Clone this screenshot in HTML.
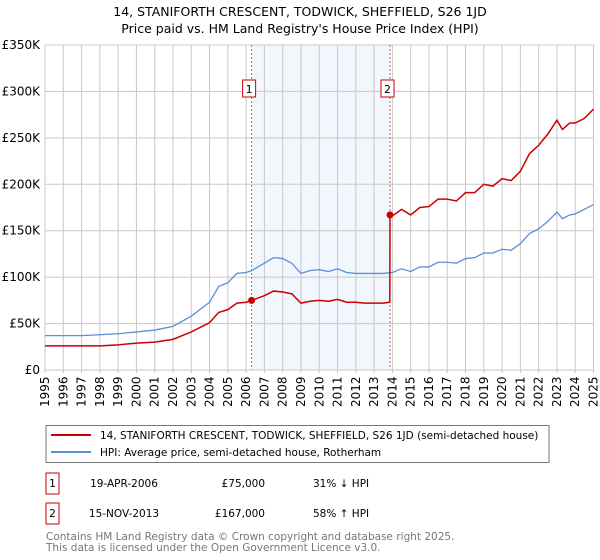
<!DOCTYPE html>
<html><head><meta charset="utf-8"><style>
body{margin:0;background:#fff;font-family:"DejaVu Sans","Liberation Sans",sans-serif;}
#wrap{position:relative;width:600px;height:560px;overflow:hidden}
</style></head><body>
<div id="wrap">
<svg id="chart" width="600" height="560" xmlns="http://www.w3.org/2000/svg" font-family="DejaVu Sans, Liberation Sans, sans-serif"></svg>
</div>
<script>
const hpiYears=[1995,1996,1997,1998,1999,2000,2001,2002,2003,2004,2004.5,2005,2005.5,2006,2006.3,2007,2007.5,2008,2008.5,2009,2009.5,2010,2010.5,2011,2011.5,2012,2012.5,2013,2013.5,2014,2014.5,2015,2015.5,2016,2016.5,2017,2017.5,2018,2018.5,2019,2019.5,2020,2020.5,2021,2021.5,2022,2022.5,2023,2023.3,2023.7,2024,2024.5,2025];
const hpiValues=[37,37,37,38,39,41,43,47,58,73,90,94,104,105,107,115,121,120,115,104,107,108,106,109,105,104,104,104,104,105,109,106,111,111,116,116,115,120,121,126,126,130,129,136,147,152,160,170,163,167,168,173,178];
const redYears=[1995,1996,1997,1998,1999,2000,2001,2002,2003,2004,2004.5,2005,2005.5,2006,2006.3,2007,2007.5,2008,2008.5,2009,2009.5,2010,2010.5,2011,2011.5,2012,2012.5,2013,2013.5,2013.86,2013.87,2014,2014.5,2015,2015.5,2016,2016.5,2017,2017.5,2018,2018.5,2019,2019.5,2020,2020.5,2021,2021.5,2022,2022.5,2023,2023.3,2023.7,2024,2024.5,2025];
const redValues=[26,26,26,26,27,29,30,33,41,51,62,65,72,73,75,80,85,84,82,72,74,75,74,76,73,73,72,72,72,73,167,166,173,167,175,176,184,184,182,191,191,200,198,206,204,214,233,242,254,269,259,266,266,271,281];
const saleYears=[2006.3,2013.87];
const saleValues=[75,167];
const saleLabels=["1","2"];
const yTicks=[0,50,100,150,200,250,300,350];
const yTickLabels=["£0","£50K","£100K","£150K","£200K","£250K","£300K","£350K"];
const xTicks=[1995,1996,1997,1998,1999,2000,2001,2002,2003,2004,2005,2006,2007,2008,2009,2010,2011,2012,2013,2014,2015,2016,2017,2018,2019,2020,2021,2022,2023,2024,2025];

const NS="http://www.w3.org/2000/svg";
const svg=document.getElementById('chart');
const X0=45,X1=593.5,Y0=370,Y1=45;
function xs(y){return X0+(y-1995)/30*(X1-X0);}
function ys(v){return Y0-v/350*(Y0-Y1);}
function mk(tag,attrs,parent){const e=document.createElementNS(NS,tag);for(const k in attrs)e.setAttribute(k,attrs[k]);(parent||svg).appendChild(e);return e;}
function txt(s,attrs){const e=mk('text',attrs);e.textContent=s;return e;}

let t=txt("14, STANIFORTH CRESCENT, TODWICK, SHEFFIELD, S26 1JD",{x:300,y:16,'text-anchor':'middle','font-size':12.5,fill:'#000'});


t=txt("Price paid vs. HM Land Registry's House Price Index (HPI)",{x:300,y:33,'text-anchor':'middle','font-size':12.5,fill:'#000'});



let band=mk('rect',{x:xs(saleYears[0]),y:Y1,width:xs(saleYears[1])-xs(saleYears[0]),height:Y0-Y1,fill:'#f2f6fd'});



xTicks.forEach(y=>{
  const l=mk('line',{x1:xs(y),x2:xs(y),y1:Y1,y2:Y0+3,stroke:'#c8c8c8','stroke-width':1});
  
  
  const tl=txt(String(y),{transform:`translate(${xs(y)+4},${Y0+37}) rotate(-90)`,'font-size':12,fill:'#000'});
  
  
});
yTicks.forEach((v,i)=>{
  const l=mk('line',{x1:X0,x2:X1,y1:ys(v),y2:ys(v),stroke:'#c8c8c8','stroke-width':1});
  
  
  const tl=txt(yTickLabels[i],{x:X0-5,y:ys(v)+4,'text-anchor':'end','font-size':12,fill:'#000'});
  
  
});

saleYears.forEach((y,i)=>{
  const l=mk('line',{x1:xs(y),x2:xs(y),y1:Y1,y2:Y0,stroke:'#e05555','stroke-width':1,'stroke-dasharray':'2,2'});
  
  
  const b=mk('rect',{x:xs(y)-9,y:80,width:13,height:17,fill:'#fff',stroke:'#cc0000','stroke-width':1});
  
  
  const tl=txt(saleLabels[i],{x:xs(y)-2.5,y:93,'text-anchor':'middle','font-size':11,fill:'#000'});
  
  
});

let hp=mk('polyline',{points:hpiYears.map((y,i)=>xs(y)+','+ys(hpiValues[i])).join(' '),fill:'none',stroke:'#5b8fd4','stroke-width':1.3});


let rp=mk('polyline',{points:redYears.map((y,i)=>xs(y)+','+ys(redValues[i])).join(' '),fill:'none',stroke:'#cc0000','stroke-width':1.5});


saleYears.forEach((y,i)=>{
  const c=mk('circle',{cx:xs(y),cy:ys(saleValues[i]),r:3.5,fill:'#cc0000'});
  
  
});
let ax=mk('line',{x1:X0,x2:X1,y1:Y0,y2:Y0,stroke:'#c8c8c8'});



// legend
let lg=mk('rect',{x:46,y:425.5,width:503,height:37,fill:'#fff',stroke:'#777','stroke-width':1});


let l1=mk('line',{x1:51,x2:91,y1:435,y2:435,stroke:'#cc0000','stroke-width':2});


t=txt("14, STANIFORTH CRESCENT, TODWICK, SHEFFIELD, S26 1JD (semi-detached house)",{x:100,y:439,'font-size':10.5,fill:'#000'});


let l2=mk('line',{x1:51,x2:91,y1:452,y2:452,stroke:'#5b8fd4','stroke-width':2});


t=txt("HPI: Average price, semi-detached house, Rotherham",{x:100,y:456,'font-size':10.5,fill:'#000'});



// table
const rows=[["1","19-APR-2006","£75,000","31% ↓ HPI",483],["2","15-NOV-2013","£167,000","58% ↑ HPI",513]];
rows.forEach(r=>{
  const b=mk('rect',{x:46,y:r[4]-10,width:13,height:21,fill:'#fff',stroke:'#cc0000'});
  
  
  let a=txt(r[0],{x:52.5,y:r[4]+4,'text-anchor':'middle','font-size':10.5});
  
  
  a=txt(r[1],{x:124,y:r[4]+4,'text-anchor':'middle','font-size':10.5});
  
  
  a=txt(r[2],{x:265,y:r[4]+4,'text-anchor':'end','font-size':10.5});
  
  
  a=txt(r[3],{x:313,y:r[4]+4,'font-size':10.5});
  
  
});
t=txt("Contains HM Land Registry data © Crown copyright and database right 2025.",{x:46,y:540,'font-size':10.5,fill:'#777'});


t=txt("This data is licensed under the Open Government Licence v3.0.",{x:46,y:551,'font-size':10.5,fill:'#777'});


</script>
</body></html>
